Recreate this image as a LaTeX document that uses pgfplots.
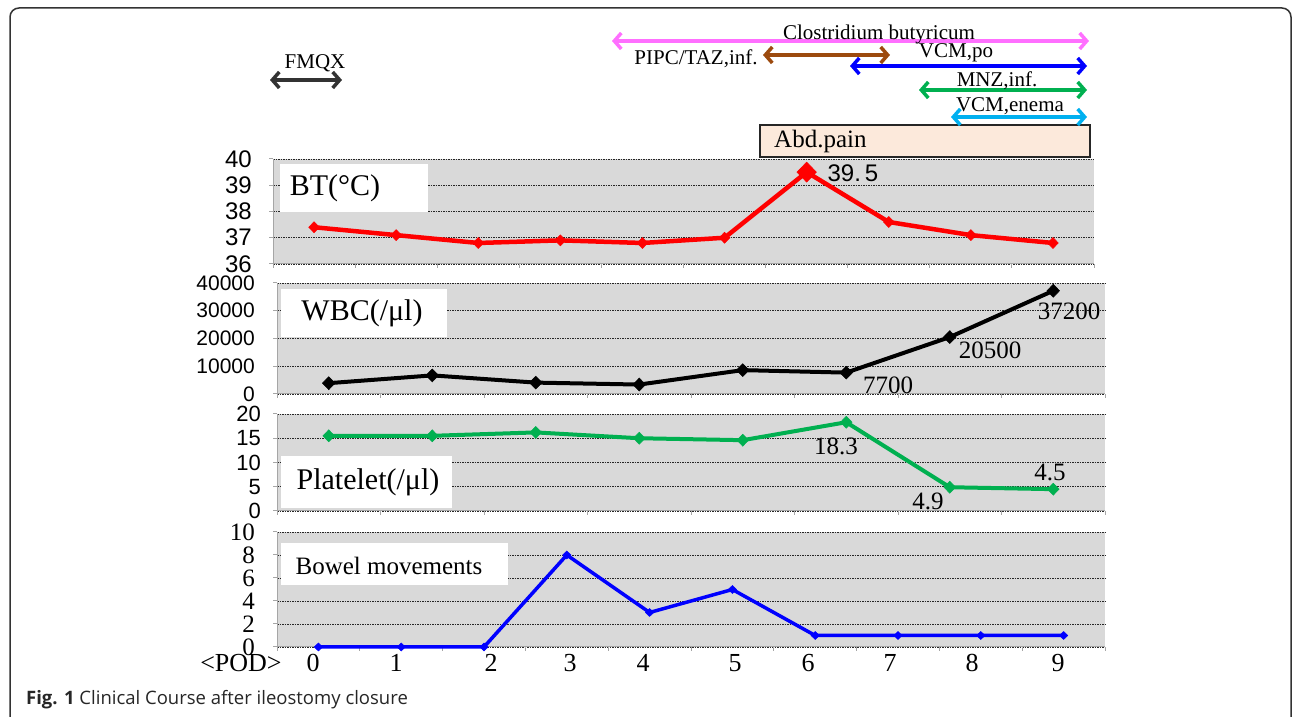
\documentclass[border=0pt]{standalone}
\usepackage{fontspec}
\setmainfont{Liberation Serif}
\newfontfamily\ticksans{Liberation Sans}
\newfontfamily\capfont{Open Sans}
\usepackage{pgfplots}
\pgfplotsset{compat=1.18}
\usetikzlibrary{arrows.meta}
\definecolor{bggray}{HTML}{D9D9D9}
\definecolor{axgray}{HTML}{A6A6A6}
\definecolor{xlred}{HTML}{FF0000}
\definecolor{xlgreen}{HTML}{00B050}
\definecolor{xlblue}{HTML}{0000FF}
\definecolor{xllblue}{HTML}{00B0F0}
\definecolor{xlpink}{HTML}{FF6FFF}
\definecolor{xlbrown}{HTML}{9C4A0E}
\definecolor{xldark}{HTML}{333333}
\definecolor{peach}{HTML}{FCE9DB}
\newcommand\fs[2]{\fontsize{#1bp}{#2bp}\selectfont}
\pgfplotsset{
  panel/.style={
    scale only axis,
    anchor=south west,
    axis background/.style={fill=bggray},
    axis x line*=bottom, axis y line*=left,
    axis line style={-, draw=axgray, line width=1bp},
    xmin=0,
    tick align=outside,
    major tick length=4bp,
    tick style={draw=axgray, line width=1bp},
    xticklabels={},
    scaled y ticks=false,
    scaled x ticks=false,
    ymajorgrids,
    major grid style={draw=black!85, line width=0.8bp, dash pattern=on 1.5bp off 1bp},
    clip=false,
    yticklabel style={anchor=east, inner sep=0pt},
  }
}
\tikzset{drug/.style={line width=3.5bp, arrows={Straight Barb[length=7bp,width=16bp]-Straight Barb[length=7bp,width=16bp]}}}
\begin{document}
\begin{tikzpicture}[x=1bp,y=1bp]
\useasboundingbox (0,0) rectangle (1292,717);
% frame
\draw[line width=1.5bp, draw=black!80, rounded corners=9bp] (10,-40) -- (10,709) -- (1291,709) -- (1291,-40);

% BT panel
\begin{axis}[panel, at={(273bp,453bp)}, width=821bp, height=105bp,
  xmax=10, xtick={0,...,10}, ymin=36, ymax=40, ytick={36,37,38,39,40},
  yticklabels={36,37,38,39,40},
  yticklabel style={font=\ticksans\fs{24}{24}, xshift=-17bp}]
\addplot[xlred, line width=4.5bp, mark=diamond*, mark size=5.5bp, mark options={solid, line width=0.5bp, xscale=1.3}]
 coordinates {(0.5,37.4) (1.5,37.1) (2.5,36.8) (3.5,36.9) (4.5,36.8) (5.5,37.0) (6.5,39.5) (7.5,37.6) (8.5,37.1) (9.5,36.8)};
\addplot[xlred, only marks, mark=diamond*, mark size=10bp, mark options={solid, line width=0.5bp, xscale=1.3}]
 coordinates {(6.5,39.5)};
\end{axis}

% WBC panel
\begin{axis}[panel, at={(277bp,323bp)}, width=828bp, height=111bp,
  xmax=8, xtick={0,...,8}, ymin=0, ymax=40000, ytick={0,10000,20000,30000,40000},
  yticklabels={0,10000,20000,30000,40000},
  yticklabel style={font=\ticksans\fs{21}{21}, xshift=-18bp}]
\addplot[black, line width=4bp, mark=diamond*, mark size=6.5bp, mark options={solid, line width=0.5bp, xscale=1.3}]
 coordinates {(0.5,3900) (1.5,6700) (2.5,4100) (3.5,3400) (4.5,8600) (5.5,7700) (6.5,20500) (7.5,37200)};
\end{axis}

% Platelet panel
\begin{axis}[panel, at={(277bp,206bp)}, width=828bp, height=97bp,
  xmax=8, xtick={0,...,8}, ymin=0, ymax=20, ytick={0,5,10,15,20},
  yticklabels={0,5,10,15,20},
  yticklabel style={font=\ticksans\fs{22}{22}, xshift=-12bp}]
\addplot[xlgreen, line width=4bp, mark=diamond*, mark size=6bp, mark options={solid, line width=0.5bp, xscale=1.3}]
 coordinates {(0.5,15.5) (1.5,15.5) (2.5,16.2) (3.5,15.0) (4.5,14.6) (5.5,18.3) (6.5,4.9) (7.5,4.5)};
\end{axis}

% Bowel panel
\begin{axis}[panel, at={(277bp,70bp)}, width=828bp, height=115bp,
  xmax=10, xtick={0,...,10}, ymin=0, ymax=10, ytick={0,2,4,6,8,10},
  yticklabels={0,2,4,6,8,10},
  yticklabel style={font=\fs{25}{25}, xshift=-18bp}]
\addplot[xlblue, line width=3.5bp, mark=diamond*, mark size=4bp, mark options={solid, line width=0.5bp, xscale=1.4}]
 coordinates {(0.5,0) (1.5,0) (2.5,0) (3.5,8) (4.5,3) (5.5,5) (6.5,1) (7.5,1) (8.5,1) (9.5,1)};
\end{axis}

% day labels
\begin{scope}[every node/.style={font=\fs{26}{26}, inner sep=0pt}]
\node at (241,54) {<POD>};
\node at (313,54) {0};
\node at (396,54) {1};
\node at (491,54) {2};
\node at (570,54) {3};
\node at (643,54) {4};
\node at (735,54) {5};
\node at (808,54) {6};
\node at (890,54) {7};
\node at (972,54) {8};
\node at (1058,54) {9};
\end{scope}

% panel title boxes
\fill[white] (280,505) rectangle (428,553);
\node[font=\fs{30}{30}, inner sep=0pt] at (335,529) {BT(°C)};
\fill[white] (281,380) rectangle (447,428);
\node[font=\fs{30}{30}, inner sep=0pt] at (362,404) {WBC(/μl)};
\fill[white] (281,209) rectangle (452,261);
\node[font=\fs{30}{30}, inner sep=0pt] at (368,235) {Platelet(/μl)};
\fill[white] (281,132) rectangle (508,174);
\node[font=\fs{25}{25}, inner sep=0pt] at (389,151) {Bowel movements};

% data labels
\node[font=\ticksans\fs{24}{24}, inner sep=0pt] at (853,544) {39.\,5};
\begin{scope}[every node/.style={font=\fs{25}{25}, inner sep=0pt}]
\node at (1069,406) {37200};
\node at (990,367) {20500};
\node at (888,332) {7700};
\node at (836,271) {18.3};
\node at (928,216) {4.9};
\node at (1050,245) {4.5};
\end{scope}

% Abd.pain box
\draw[fill=peach, draw=black!85, line width=2.5bp] (760,560) rectangle (1090,592);
\node[font=\fs{25}{25}, anchor=west, inner sep=0pt] at (774,576) {Abd.pain};

% drug arrows
\draw[drug, xlpink] (612,676) -- (1089,676);
\draw[drug, xlbrown] (763,662) -- (890,662);
\draw[drug, xlblue] (850,651) -- (1087,651);
\draw[drug, xlgreen] (919,627) -- (1087,627);
\draw[drug, xllblue] (951,600) -- (1087,600);
\draw[drug, xldark] (270,637) -- (342,637);
\begin{scope}[every node/.style={font=\fs{21}{21}, inner sep=0pt}]
\node at (879,683) {Clostridium butyricum};
\node at (696,658) {PIPC/TAZ,inf.};
\node at (956,664) {VCM,po};
\node at (997,636) {MNZ,inf.};
\node at (1010,611) {VCM,enema};
\node at (315,654) {FMQX};
\end{scope}

% caption
\node[anchor=west, font=\capfont\fs{18.5}{22}, text=black!85, inner sep=0pt] at (26,17) {\textbf{Fig. 1} Clinical Course after ileostomy closure};
\end{tikzpicture}
\end{document}
